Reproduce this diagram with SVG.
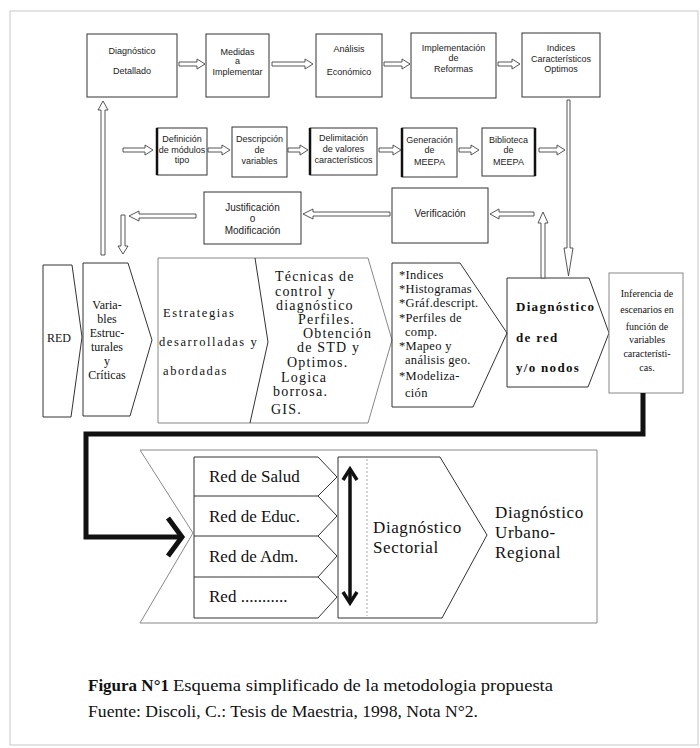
<svg xmlns="http://www.w3.org/2000/svg" width="700" height="748" viewBox="0 0 700 748">
<style>
.box{fill:#fff;stroke:#333;stroke-width:1}
.thk{stroke:#111;stroke-width:2.5;fill:none}
.lb{fill:#fff;stroke:#888;stroke-width:1}
.ln{fill:none;stroke:#333;stroke-width:1}
.ha{fill:#fff;stroke:#444;stroke-width:0.9}
.ss{font-family:"Liberation Sans",Arial,sans-serif;font-size:9px;fill:#222;text-anchor:middle}
.sm{font-family:"Liberation Sans",Arial,sans-serif;font-size:10px;fill:#222;text-anchor:middle}
.sf{font-family:"Liberation Serif","Times New Roman",serif;fill:#111}
.bold{font-weight:bold}
.conn{fill:none;stroke:#111;stroke-width:5;stroke-linejoin:miter}
</style>
<rect x="0" y="0" width="700" height="748" fill="#fff"/>
<rect x="10" y="11" width="688" height="734" fill="none" stroke="#c8c8c8" stroke-width="1"/>

<!-- Top row -->
<g id="n-diag-detallado"><rect class="box" x="87" y="34" width="90" height="63"/><text class="ss" x="132" y="54">Diagnóstico</text><text class="ss" x="132" y="74">Detallado</text></g>
<g id="n-medidas"><rect class="box" x="206" y="34" width="63" height="63"/><text class="ss" x="237.5" y="55">Medidas</text><text class="ss" x="237.5" y="64">a</text><text class="ss" x="237.5" y="75">Implementar</text></g>
<g id="n-analisis"><rect class="box" x="316" y="34" width="66" height="63"/><text class="ss" x="349" y="52">Análisis</text><text class="ss" x="349" y="75">Económico</text></g>
<g id="n-implementacion"><rect class="box" x="411" y="33" width="85" height="65"/><text class="ss" x="453.5" y="51">Implementación</text><text class="ss" x="453.5" y="61">de</text><text class="ss" x="453.5" y="72">Reformas</text></g>
<g id="n-indices-opt"><rect class="box" x="522" y="33" width="78" height="64"/><text class="ss" x="561" y="51">Indices</text><text class="ss" x="561" y="62">Característicos</text><text class="ss" x="561" y="72">Optimos</text></g>

<!-- Second row -->
<g id="n-definicion"><rect class="box" x="157" y="128" width="50" height="47"/><line class="thk" x1="157" y1="128" x2="157" y2="175"/><text class="ss" x="182" y="142">Definición</text><text class="ss" x="182" y="153">de módulos</text><text class="ss" x="182" y="163">tipo</text></g>
<g id="n-descripcion"><rect class="box" x="232" y="127" width="55" height="50" stroke-width="2.5" stroke="#111"/><text class="ss" x="259.5" y="142">Descripción</text><text class="ss" x="259.5" y="153">de</text><text class="ss" x="259.5" y="164">variables</text></g>
<g id="n-delimitacion"><rect class="box" x="310" y="128" width="67" height="47"/><line class="thk" x1="310" y1="128" x2="310" y2="175"/><text class="ss" x="343.5" y="141">Delimitación</text><text class="ss" x="343.5" y="152">de valores</text><text class="ss" x="343.5" y="163">característicos</text></g>
<g id="n-generacion"><rect class="box" x="402" y="128" width="55" height="49"/><line class="thk" x1="402" y1="128" x2="402" y2="177"/><text class="ss" x="429.5" y="143">Generación</text><text class="ss" x="429.5" y="153">de</text><text class="ss" x="429.5" y="165">MEEPA</text></g>
<g id="n-biblioteca"><rect class="box" x="482" y="128" width="53" height="48"/><line class="thk" x1="535" y1="128" x2="535" y2="176"/><text class="ss" x="508.5" y="143">Biblioteca</text><text class="ss" x="508.5" y="153">de</text><text class="ss" x="508.5" y="165">MEEPA</text></g>

<!-- Third row -->
<g id="n-justificacion"><rect class="box" x="204" y="192" width="97" height="52"/><text class="sm" x="252.5" y="211">Justificación</text><text class="sm" x="252.5" y="222">o</text><text class="sm" x="252.5" y="234">Modificación</text></g>
<g id="n-verificacion"><rect class="box" x="392" y="188" width="96" height="55" stroke="#666"/><text class="sm" x="440" y="217">Verificación</text></g>

<!-- Middle row -->
<g id="n-red"><polygon class="ln" points="43,265 72,265 82,337 71,417 43,417"/><text class="sf" x="47" y="342" font-size="12">RED</text></g>
<g id="n-variables"><polygon class="ln" points="83,263 128,263 152,340 130,416 83,416"/>
<g class="sf" font-size="12" text-anchor="middle"><text x="107" y="309">Varia-</text><text x="107" y="323">bles</text><text x="107" y="337">Estruc-</text><text x="107" y="351">turales</text><text x="107" y="365">y</text><text x="107" y="379">Críticas</text></g></g>
<g id="n-estrategias"><polygon class="lb" points="158,258 368,258 392,340 368,423 158,423"/><polyline class="ln" points="255,258 268,342 250,423"/>
<g class="sf" font-size="12.5" letter-spacing="1.6"><text x="163" y="317">Estrategias</text><text x="159" y="346">desarrolladas y</text><text x="163" y="375">abordadas</text></g>
<g class="sf" font-size="14" letter-spacing="1.2"><text x="275" y="281">Técnicas de</text><text x="275" y="296">control y</text><text x="276" y="310">diagnóstico</text><text x="298" y="324">Perfiles.</text><text x="303" y="338">Obtención</text><text x="297" y="352">de STD y</text><text x="287" y="367">Optimos.</text><text x="281" y="382">Logica</text><text x="273" y="396">borrosa.</text><text x="271" y="414">GIS.</text></g></g>
<g id="n-indices"><polygon class="ln" points="392,263 460,263 507,333 473,407 392,407"/>
<g class="sf" font-size="12.5" letter-spacing="0.3"><text x="399" y="279">*Indices</text><text x="399" y="293">*Histogramas</text><text x="399" y="307">*Gráf.descript.</text><text x="399" y="322">*Perfiles de</text><text x="405" y="336">comp.</text><text x="399" y="350">*Mapeo y</text><text x="405" y="364">análisis geo.</text><text x="399" y="380">*Modeliza-</text><text x="405" y="397">ción</text></g></g>
<g id="n-diag-red"><polygon class="ln" points="507,278 589,278 609,333 588,387 507,387"/>
<g class="sf bold" font-size="13" letter-spacing="1.3"><text x="516" y="311">Diagnóstico</text><text x="516" y="342">de red</text><text x="516" y="372">y/o nodos</text></g></g>
<g id="n-inferencia"><rect class="lb" x="609" y="273" width="74" height="120"/>
<g class="sf" font-size="10" text-anchor="middle"><text x="647" y="297">Inferencia de</text><text x="647" y="313">escenarios en</text><text x="647" y="330">función de</text><text x="647" y="343">variables</text><text x="647" y="357">característi-</text><text x="647" y="371">cas.</text></g></g>

<!-- Bottom -->
<g id="n-outer"><polygon class="lb" points="140,450 597,450 597,623 140,623 193,533"/></g>
<g id="n-redes"><polyline class="ln" points="318,457 194,457 194,618 318,618"/>
<polyline class="ln" points="318,457 337,477 318,496 337,516 318,536 337,556 318,577 337,597 318,618"/>
<line class="ln" x1="194" y1="496" x2="318" y2="496"/><line class="ln" x1="194" y1="536" x2="318" y2="536"/><line class="ln" x1="194" y1="577" x2="318" y2="577"/>
<g class="sf" font-size="17"><text x="209" y="482">Red de Salud</text><text x="209" y="522">Red de Educ.</text><text x="209" y="562">Red de Adm.</text><text x="209" y="602">Red ...........</text></g></g>
<g id="n-sectorial"><polygon class="ln" points="338,457 440,457 487,535 442,618 338,618"/><line x1="367" y1="459" x2="367" y2="616" stroke="#aaa" stroke-dasharray="2,2"/>
<g class="sf" font-size="17" letter-spacing="0.6"><text x="373" y="533">Diagnóstico</text><text x="373" y="553">Sectorial</text></g></g>
<g id="n-urbano"><g class="sf" font-size="17" letter-spacing="0.6"><text x="495" y="518">Diagnóstico</text><text x="495" y="538">Urbano-</text><text x="495" y="558">Regional</text></g></g>

<!-- Connectors -->
<g id="connectors">
<polygon class="ha" points="179,62 197,62 197,59 205,64 197,69 197,66 179,66"/>
<polygon class="ha" points="272,62 305,62 305,59 313,64 305,69 305,66 272,66"/>
<polygon class="ha" points="384,62 402,62 402,59 410,64 402,69 402,66 384,66"/>
<polygon class="ha" points="498,62 512,62 512,59 520,64 512,69 512,66 498,66"/>
<polygon class="ha" points="123,148 145,148 145,145 153,150 145,155 145,152 123,152"/>
<polygon class="ha" points="208,148 222,148 222,145 230,150 222,155 222,152 208,152"/>
<polygon class="ha" points="288,148 300,148 300,145 308,150 300,155 300,152 288,152"/>
<polygon class="ha" points="379,148 393,148 393,145 401,150 393,155 393,152 379,152"/>
<polygon class="ha" points="459,148 471,148 471,145 479,150 471,155 471,152 459,152"/>
<polygon class="ha" points="539,148 557,148 557,145 565,150 557,155 557,152 539,152"/>
<polygon class="ha" points="534,212 499,212 499,209 490,214 499,219 499,216 534,216"/>
<polygon class="ha" points="390,212 313,212 313,209 303,214 313,219 313,216 390,216"/>
<polygon class="ha" points="196,214 139,214 139,211 129,216 139,221 139,218 196,218"/>
<polygon class="ha" points="121,215 125,215 125,246 128,246 123,254 118,246 121,246"/>
<polygon class="ha" points="101,255 105,255 105,110 108,110 103,101 98,110 101,110"/>
<polygon class="ha" points="541,278 545,278 545,223 548,223 543,212 538,223 541,223"/>
<polygon class="ha" points="567,100 570,100 570,248 573,248 568.5,276 564,248 567,248"/>
<polyline class="conn" points="643,393 643,434 86,434 86,537 180,537"/>
<polyline class="conn" points="168,518 182,537 168,556" stroke-linejoin="round"/>
<line x1="350" y1="471" x2="350" y2="600" stroke="#111" stroke-width="3.5"/>
<polyline points="343,480 350,469 357,480" fill="none" stroke="#111" stroke-width="3.5"/>
<polyline points="343,592 350,603 357,592" fill="none" stroke="#111" stroke-width="3.5"/>
</g>

<!-- Caption -->
<text class="sf bold" x="88" y="691" font-size="17">Figura N°1</text>
<text class="sf" x="173" y="691" font-size="16" textLength="380" lengthAdjust="spacingAndGlyphs">Esquema simplificado de la metodologia propuesta</text>
<text class="sf" x="88" y="717" font-size="16" textLength="390" lengthAdjust="spacingAndGlyphs">Fuente: Discoli, C.: Tesis de Maestria, 1998, Nota N°2.</text>
</svg>
